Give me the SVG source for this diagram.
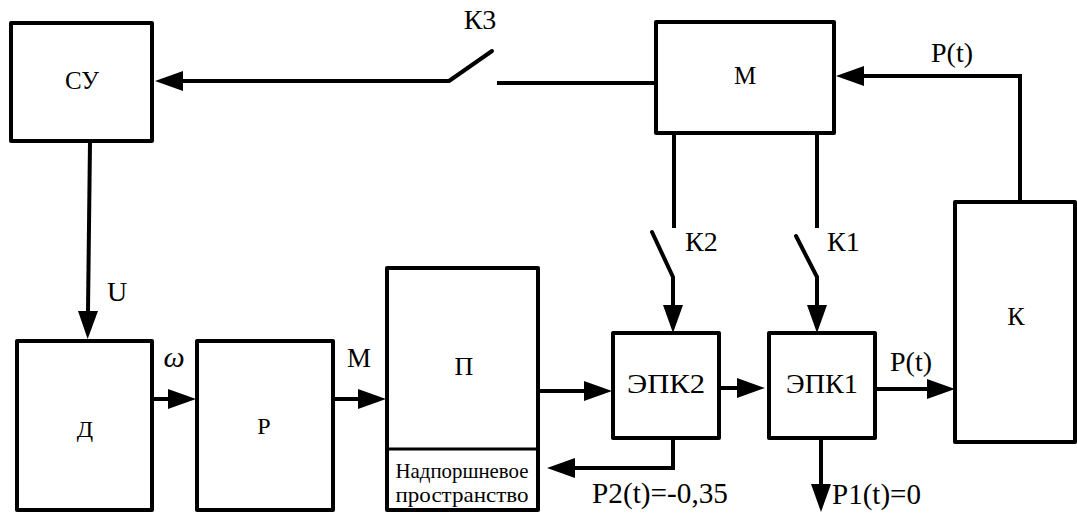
<svg xmlns="http://www.w3.org/2000/svg" width="1077" height="513" viewBox="0 0 1077 513">
<style>
.box{fill:#fff;stroke:#000;stroke-width:4;stroke-linejoin:round}
.ln{fill:none;stroke:#000;stroke-width:4;stroke-linejoin:miter}
.sw{fill:none;stroke:#000;stroke-width:4;stroke-linecap:round}
.arr{fill:none;stroke:#000;stroke-width:4;marker-end:url(#ah)}
.t{font-family:"Liberation Serif","Times New Roman",serif;fill:#000}
.c{text-anchor:middle}
</style>
<defs>
<marker id="ah" markerUnits="userSpaceOnUse" markerWidth="29" markerHeight="22" refX="0" refY="10" orient="auto" overflow="visible">
<path d="M0,0 L28,10 L0,20 Z" fill="#000"/>
</marker>
</defs>
<g id="connectors">
<path class="ln" d="M656,83 L497,83"/>
<path class="sw" d="M449,81 L492,51"/>
<path class="arr" d="M449,81 L183,81"/>
<path class="arr" d="M90,142 L88,311"/>
<path class="arr" d="M152,399 L168,399"/>
<path class="arr" d="M333,399 L358,399"/>
<path class="arr" d="M538,391 L584,391"/>
<path class="arr" d="M719,388 L737,388"/>
<path class="arr" d="M875,389 L927,389"/>
<path class="arr" d="M1020,202 L1020,76 L864,76"/>
<path class="ln" d="M674,133 L674,228"/>
<path class="sw" d="M652,232 L673,277"/>
<path class="arr" d="M673,277 L673,305"/>
<path class="ln" d="M817,133 L817,228"/>
<path class="sw" d="M796,236 L817,277"/>
<path class="arr" d="M817,277 L817,305"/>
<path class="arr" d="M673,438 L673,468 L575,468"/>
<path class="arr" d="M821,438 L821,484"/>
</g>
<g id="node-SU"><rect class="box" x="11" y="23" width="141" height="118"/><text class="t c" x="82" y="89" font-size="25">СУ</text></g>
<g id="node-M"><rect class="box" x="656" y="22" width="178" height="111"/><text class="t c" x="745" y="84" font-size="25">М</text></g>
<g id="node-D"><rect class="box" x="17" y="341" width="135" height="169"/><text class="t c" x="85" y="437" font-size="24">Д</text></g>
<g id="node-R"><rect class="box" x="197" y="341" width="136" height="169"/><text class="t c" x="264" y="434" font-size="24">Р</text></g>
<g id="node-P"><rect class="box" x="387" y="268" width="151" height="242"/><line x1="387" y1="449" x2="538" y2="449" stroke="#000" stroke-width="3"/><text class="t c" x="464" y="375" font-size="26">П</text><text class="t c" x="462" y="478" font-size="22" textLength="133" lengthAdjust="spacingAndGlyphs">Надпоршневое</text><text class="t c" x="462" y="502" font-size="22" textLength="133" lengthAdjust="spacingAndGlyphs">пространство</text></g>
<g id="node-EPK2"><rect class="box" x="613" y="333" width="106" height="105"/><text class="t c" x="666" y="393" font-size="27" textLength="78" lengthAdjust="spacingAndGlyphs">ЭПК2</text></g>
<g id="node-EPK1"><rect class="box" x="769" y="333" width="106" height="105"/><text class="t c" x="822" y="393" font-size="27" textLength="72" lengthAdjust="spacingAndGlyphs">ЭПК1</text></g>
<g id="node-K"><rect class="box" x="955" y="202" width="120" height="240"/><text class="t c" x="1016" y="325" font-size="26">К</text></g>
<g id="labels">
<text class="t c" x="480" y="29" font-size="28">К3</text>
<text class="t c" x="952" y="62" font-size="28">P(t)</text>
<text class="t c" x="117" y="301" font-size="28">U</text>
<text class="t c" x="174" y="367" font-size="30" font-style="italic">ω</text>
<text class="t c" x="359" y="367" font-size="27">М</text>
<text class="t" x="685" y="251" font-size="28">К2</text>
<text class="t" x="827" y="251" font-size="28">К1</text>
<text class="t" x="890" y="371" font-size="28">P(t)</text>
<text class="t" x="592" y="503" font-size="30" textLength="136" lengthAdjust="spacingAndGlyphs">P2(t)=-0,35</text>
<text class="t" x="832" y="504" font-size="30" textLength="89" lengthAdjust="spacingAndGlyphs">P1(t)=0</text>
</g>
</svg>
